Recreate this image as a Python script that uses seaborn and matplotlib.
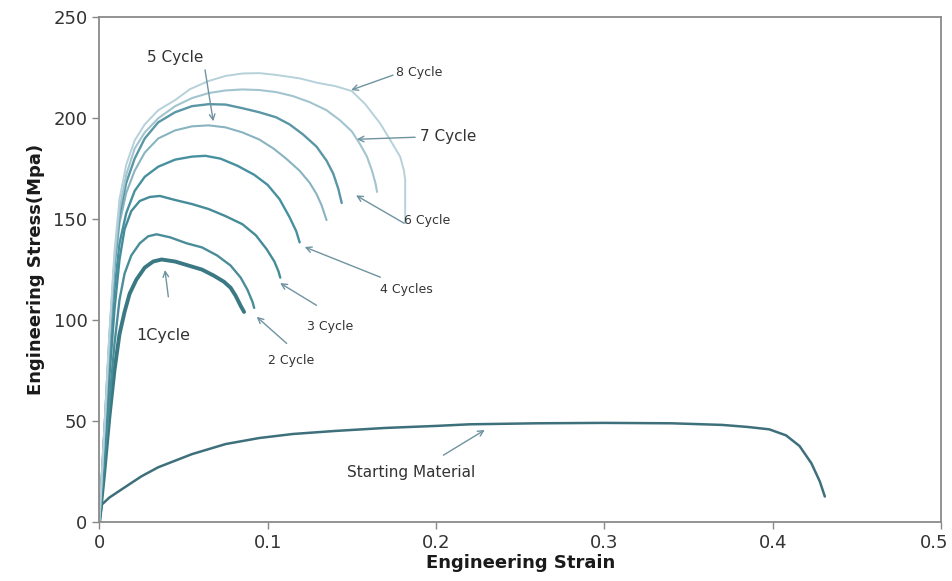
import numpy as np
import pandas as pd
import matplotlib
matplotlib.use("Agg")
import matplotlib.pyplot as plt
import matplotlib.transforms as mtransforms
import seaborn as sns

# strain / stress pairs
cycle1_strain = [0, 0.003, 0.006, 0.009, 0.012, 0.015, 0.018, 0.022, 0.027, 0.032, 0.037, 0.045, 0.053, 0.061, 0.068, 0.074, 0.078, 0.081, 0.084, 0.086]
cycle1_stress = [0, 25, 52, 75, 93, 104, 113, 120, 126, 129, 130, 129, 127, 125, 122, 119, 116, 112, 107, 104]

cycle2_strain = [0, 0.003, 0.006, 0.009, 0.012, 0.015, 0.019, 0.024, 0.029, 0.034, 0.042, 0.052, 0.061, 0.070, 0.078, 0.084, 0.088, 0.091, 0.092]
cycle2_stress = [0, 30, 60, 88, 110, 123, 132, 138, 141.5, 142.5, 141, 138, 136, 132, 127, 121, 115, 109, 106]

cycle3_strain = [0, 0.003, 0.006, 0.009, 0.012, 0.015, 0.019, 0.024, 0.030, 0.036, 0.045, 0.055, 0.065, 0.075, 0.085, 0.093, 0.0995, 0.104, 0.1065, 0.1075]
cycle3_stress = [0, 35, 72, 105, 130, 145, 154, 159, 161, 161.5, 159.5, 157.5, 155, 151.5, 147.5, 142, 135, 129, 124, 121]

cycle4_strain = [0, 0.003, 0.006, 0.009, 0.012, 0.016, 0.021, 0.027, 0.035, 0.045, 0.055, 0.063, 0.072, 0.082, 0.092, 0.1, 0.107, 0.113, 0.117, 0.119]
cycle4_stress = [0, 40, 80, 115, 138, 153, 164, 171, 176, 179.5, 181, 181.4, 180, 176.5, 172, 167, 160, 151, 144, 138.5]

cycle5_strain = [0, 0.003, 0.006, 0.009, 0.012, 0.016, 0.021, 0.027, 0.035, 0.045, 0.055, 0.065, 0.075, 0.085, 0.095, 0.1035, 0.111, 0.119, 0.125, 0.129, 0.132, 0.135]
cycle5_stress = [0, 45, 88, 125, 148, 163, 174, 183, 190, 194, 196, 196.5, 195.5, 193, 189.5, 185, 180, 174, 168, 162.5, 157, 149.5]

cycle6_strain = [0, 0.003, 0.006, 0.009, 0.012, 0.016, 0.021, 0.027, 0.035, 0.045, 0.055, 0.065, 0.075, 0.085, 0.095, 0.105, 0.113, 0.121, 0.129, 0.135, 0.139, 0.142, 0.144]
cycle6_stress = [0, 45, 90, 128, 152, 168, 180, 190, 198, 203, 206, 207, 206.8, 205, 203, 200.5, 197, 192, 186, 179, 172.5, 165, 158]

cycle7_strain = [0, 0.003, 0.006, 0.009, 0.012, 0.016, 0.021, 0.027, 0.035, 0.045, 0.055, 0.065, 0.075, 0.085, 0.095, 0.105, 0.115, 0.125, 0.135, 0.143, 0.150, 0.155, 0.159, 0.162, 0.164, 0.165]
cycle7_stress = [0, 45, 92, 130, 155, 172, 185, 193, 200, 206, 210, 212.5, 213.8, 214.3, 214, 213, 211, 208, 204, 199, 193.5, 187, 181, 174, 168, 163.5]

cycle8_strain = [0, 0.003, 0.006, 0.009, 0.012, 0.016, 0.021, 0.027, 0.035, 0.045, 0.054, 0.065, 0.075, 0.085, 0.095, 0.105, 0.119, 0.130, 0.140, 0.150, 0.158, 0.1668, 0.173, 0.1787, 0.181, 0.1817, 0.1817]
cycle8_stress = [0, 46, 94, 134, 160, 177, 189, 197, 204, 209, 214.5, 218.5, 221, 222.2, 222.4, 221.5, 219.8, 217.5, 216, 213.5, 207, 197.5, 189, 181, 174, 169.4, 148]

start_strain = [0, 0.0015, 0.006, 0.015, 0.025, 0.035, 0.055, 0.075, 0.095, 0.115, 0.14, 0.17, 0.2, 0.22, 0.26, 0.30, 0.34, 0.37, 0.385, 0.398, 0.408, 0.416, 0.423, 0.428, 0.431]
start_stress = [0, 8.5, 12, 17, 22.5, 27, 33.5, 38.5, 41.5, 43.5, 45, 46.5, 47.5, 48.3, 48.8, 49, 48.8, 48, 47, 45.8, 42.8, 37.5, 29, 20, 12.5]

x_ticks = [0, 0.1, 0.2, 0.3, 0.4, 0.5]
x_tick_labels = ["0", "0.1", "0.2", "0.3", "0.4", "0.5"]
y_ticks = [0, 50, 100, 150, 200, 250]

curves = [
    ("Starting Material", start_strain, start_stress, "#3e707b", 1.8),
    ("1 Cycle", cycle1_strain, cycle1_stress, "#3a7983", 2.8),
    ("2 Cycle", cycle2_strain, cycle2_stress, "#4a8d99", 1.7),
    ("3 Cycle", cycle3_strain, cycle3_stress, "#458b98", 1.7),
    ("4 Cycles", cycle4_strain, cycle4_stress, "#4790a0", 1.7),
    ("5 Cycle", cycle5_strain, cycle5_stress, "#88b4c0", 1.5),
    ("6 Cycle", cycle6_strain, cycle6_stress, "#5a96a5", 1.7),
    ("7 Cycle", cycle7_strain, cycle7_stress, "#a2c4ce", 1.5),
    ("8 Cycle", cycle8_strain, cycle8_stress, "#b6d1d9", 1.4),
]

sns.set_style("white")
plt.rcParams["font.family"] = ["DejaVu Sans"]

fig = plt.figure(figsize=(9.53, 5.81), dpi=100)
ax = fig.add_axes([0.1042, 0.102, 0.8832, 0.868])

for name, xs, ys, col, lw in curves:
    df = pd.DataFrame({"strain": xs, "stress": ys})
    sns.lineplot(data=df, x="strain", y="stress", sort=False, estimator=None,
                 color=col, linewidth=lw, ax=ax)

ax.set_xlim(0, 0.5)
ax.set_ylim(0, 250)
ax.set_xticks(x_ticks)
ax.set_xticklabels(x_tick_labels)
ax.set_yticks(y_ticks)
ax.tick_params(axis="both", direction="out", length=5, width=1, color="#888888",
               labelsize=13, labelcolor="#333333", bottom=True, left=True)
# last x label sits right at the figure edge, nudge it inwards a little
last = ax.get_xticklabels()[-1]
last.set_transform(last.get_transform() + mtransforms.ScaledTranslation(-5 / 72, 0, fig.dpi_scale_trans))
for s in ax.spines.values():
    s.set_color("#8a8a8a")
    s.set_linewidth(1.3)

ax.set_xlabel("Engineering Strain", fontsize=13, fontweight="bold", color="#1a1a1a", labelpad=2)
ax.set_ylabel("Engineering Stress(Mpa)", fontsize=13, fontweight="bold", color="#1a1a1a", labelpad=6)

# labels and arrows
arrow_kw = dict(arrowstyle="->", color="#6f93a0", lw=1.0, shrinkA=0, shrinkB=0)
notes = [
    ("5 Cycle", (0.0285, 230), 11, (0.0628, 224), (0.0677, 198.5)),
    ("8 Cycle", (0.176, 222.5), 9, (0.1745, 221.4), (0.1496, 214)),
    ("7 Cycle", (0.1905, 191.2), 11, (0.1876, 190.6), (0.153, 189.6)),
    ("6 Cycle", (0.1808, 149.4), 9, (0.181, 148), (0.1525, 161.8)),
    ("4 Cycles", (0.1668, 114.9), 9, (0.167, 121.2), (0.122, 136.2)),
    ("3 Cycle", (0.1233, 97), 9, (0.129, 107.3), (0.1074, 118.3)),
    ("2 Cycle", (0.1005, 80), 9, (0.1113, 88.4), (0.0935, 101.6)),
    ("1Cycle", (0.0222, 92.5), 11.5, (0.041, 111.5), (0.039, 124.8)),
    ("Starting Material", (0.147, 24.6), 11, (0.2044, 33), (0.229, 45.5)),
]
for txt, pos, fs, tail, head in notes:
    ax.text(pos[0], pos[1], txt, fontsize=fs, color="#333333", ha="left", va="center")
    ax.annotate("", xy=head, xytext=tail, arrowprops=arrow_kw)

fig.savefig("out.png", dpi=100)
